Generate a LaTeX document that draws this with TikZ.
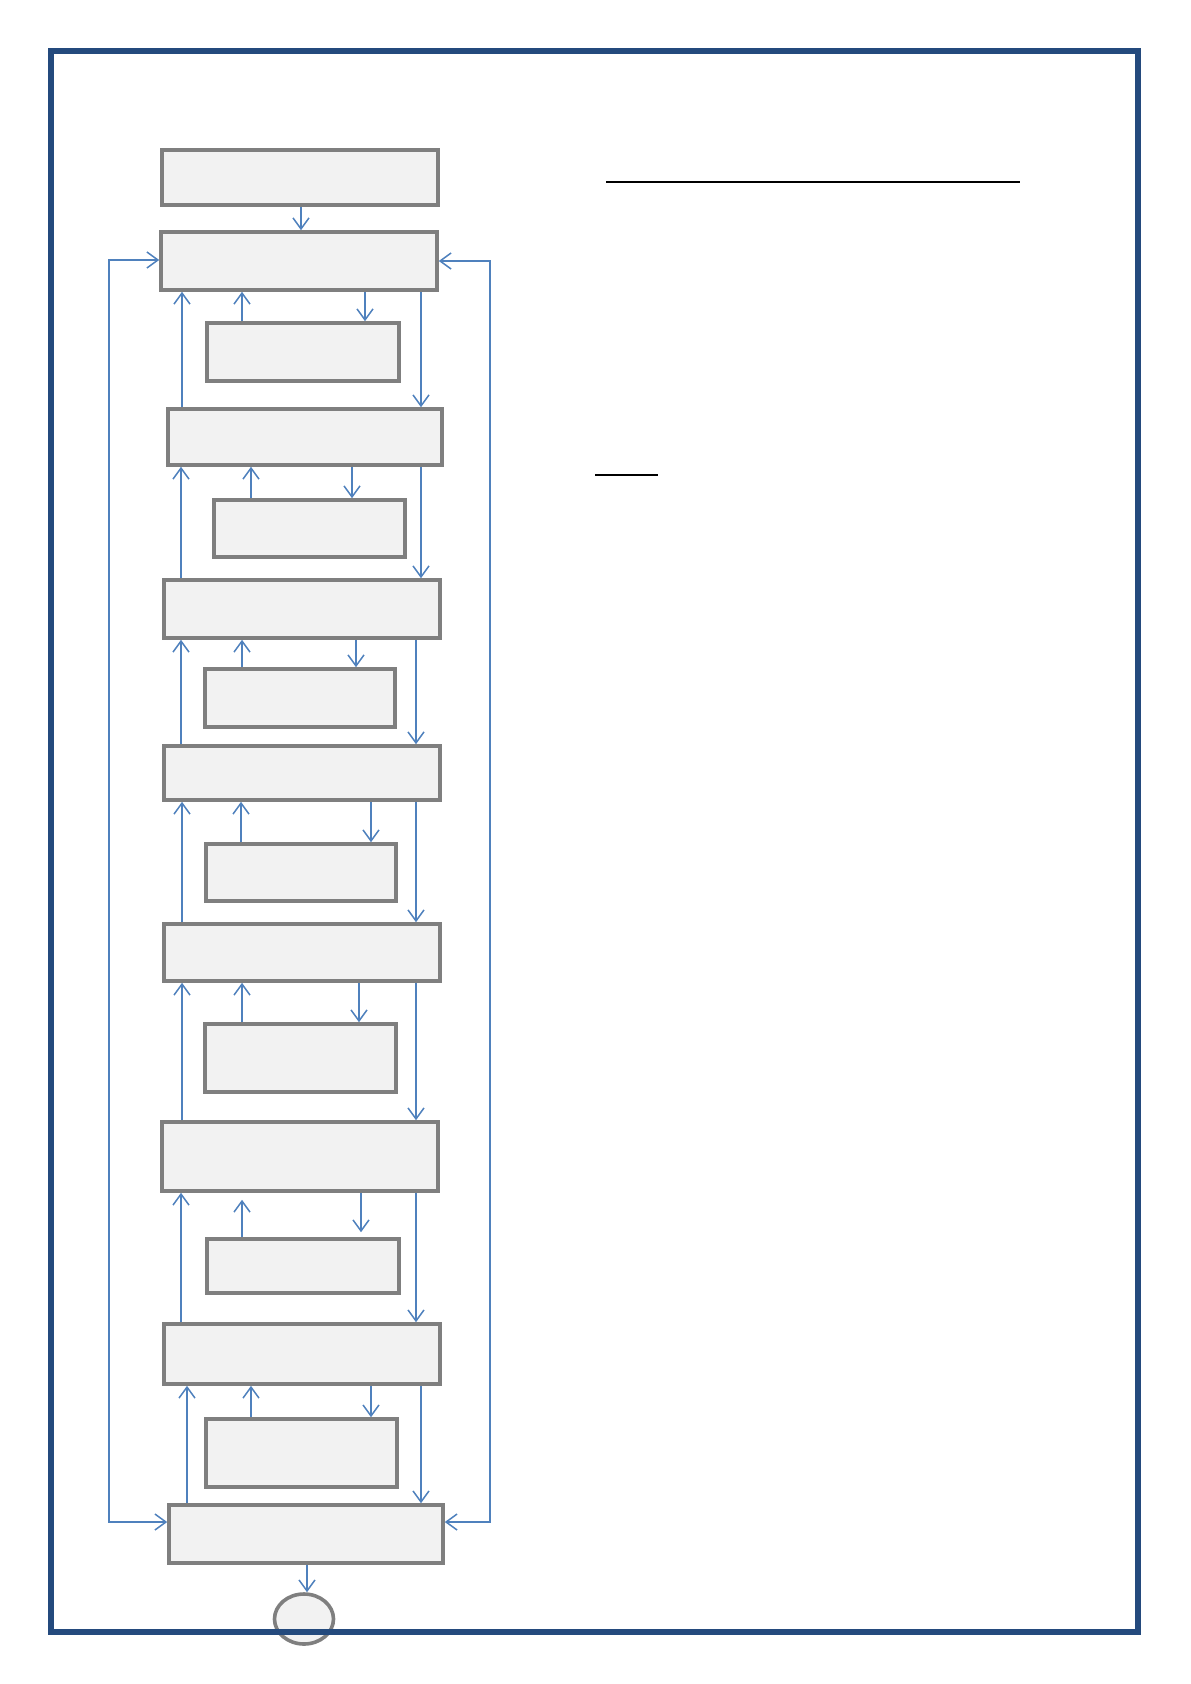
\documentclass[tikz,border=0pt]{standalone}
\usetikzlibrary{arrows.meta,shapes.geometric}
\definecolor{boxgray}{RGB}{127,127,127}
\definecolor{boxfill}{RGB}{242,242,242}
\definecolor{arrblue}{RGB}{79,129,189}
\definecolor{framec}{RGB}{36,74,125}
\begin{document}
\begin{tikzpicture}[x=1pt,y=-1pt,
  box/.style={draw=boxgray, fill=boxfill, line width=3.6pt, rectangle, inner sep=0pt},
  arr/.style={draw=arrblue, line width=1.5pt, -{Straight Barb[length=11pt,width=16pt]}},
  arrtwo/.style={draw=arrblue, line width=1.5pt, {Straight Barb[length=11pt,width=16pt]}-{Straight Barb[length=11pt,width=16pt]}}]
\useasboundingbox (0,0) rectangle (1191,1684);
\fill[white] (0,0) rectangle (1191,1684);

% main boxes
\node[box, minimum width=276pt, minimum height=55pt] (A) at (300,177.5) {};
\node[box, minimum width=276pt, minimum height=58pt] (B) at (299,261) {};
\node[box, minimum width=192pt, minimum height=58pt] (S1) at (303,352) {};
\node[box, minimum width=274pt, minimum height=56pt] (C) at (305,437) {};
\node[box, minimum width=191pt, minimum height=57pt] (S2) at (309.5,528.5) {};
\node[box, minimum width=276pt, minimum height=58pt] (D) at (302,609) {};
\node[box, minimum width=190pt, minimum height=58pt] (S3) at (300,698) {};
\node[box, minimum width=276pt, minimum height=54pt] (E) at (302,773) {};
\node[box, minimum width=190pt, minimum height=57pt] (S4) at (301,872.5) {};
\node[box, minimum width=276pt, minimum height=57pt] (F) at (302,952.5) {};
\node[box, minimum width=191pt, minimum height=68pt] (S5) at (300.5,1058) {};
\node[box, minimum width=276pt, minimum height=69pt] (G) at (300,1156.5) {};
\node[box, minimum width=192pt, minimum height=54pt] (S6) at (303,1266) {};
\node[box, minimum width=276pt, minimum height=60pt] (H) at (302,1354) {};
\node[box, minimum width=191pt, minimum height=68pt] (S7) at (301.5,1453) {};
\node[box, minimum width=274pt, minimum height=58pt] (I) at (306,1534) {};
\node[ellipse, draw=boxgray, fill=boxfill, line width=3.6pt, inner sep=0pt,
      minimum width=59pt, minimum height=50pt] (Z) at (304,1619) {};

% helper x positions
\foreach \xx in {181,182,187,241,242,251,301,307,352,356,359,361,365,371,416,421}
  \coordinate (c\xx) at (\xx,0);
\coordinate (fbL) at (109,0);
\coordinate (fbR) at (490,0);
\coordinate (yTopL) at (0,260);
\coordinate (yTopR) at (0,261);
\coordinate (yBot) at (0,1522);

% A -> B
\draw[arr] (c301 |- A.south) -- (c301 |- B.north);
% B block
\draw[arr] (c242 |- S1.north) -- (c242 |- B.south);
\draw[arr] (c365 |- B.south) -- (c365 |- S1.north);
\draw[arr] (c182 |- C.north) -- (c182 |- B.south);
\draw[arr] (c421 |- B.south) -- (c421 |- C.north);
% C block
\draw[arr] (c251 |- S2.north) -- (c251 |- C.south);
\draw[arr] (c352 |- C.south) -- (c352 |- S2.north);
\draw[arr] (c181 |- D.north) -- (c181 |- C.south);
\draw[arr] (c421 |- C.south) -- (c421 |- D.north);
% D block
\draw[arr] (c242 |- S3.north) -- (c242 |- D.south);
\draw[arr] (c356 |- D.south) -- (c356 |- S3.north);
\draw[arr] (c181 |- E.north) -- (c181 |- D.south);
\draw[arr] (c416 |- D.south) -- (c416 |- E.north);
% E block
\draw[arr] (c241 |- S4.north) -- (c241 |- E.south);
\draw[arr] (c371 |- E.south) -- (c371 |- S4.north);
\draw[arr] (c182 |- F.north) -- (c182 |- E.south);
\draw[arr] (c416 |- E.south) -- (c416 |- F.north);
% F block
\draw[arr] (c242 |- S5.north) -- (c242 |- F.south);
\draw[arr] (c359 |- F.south) -- (c359 |- S5.north);
\draw[arr] (c182 |- G.north) -- (c182 |- F.south);
\draw[arr] (c416 |- F.south) -- (c416 |- G.north);
% G block
\draw[arr, shorten >=7pt] (c242 |- S6.north) -- (c242 |- G.south);
\draw[arr, shorten >=5pt] (c361 |- G.south) -- (c361 |- S6.north);
\draw[arr] (c181 |- H.north) -- (c181 |- G.south);
\draw[arr] (c416 |- G.south) -- (c416 |- H.north);
% H block
\draw[arr] (c251 |- S7.north) -- (c251 |- H.south);
\draw[arr] (c371 |- H.south) -- (c371 |- S7.north);
\draw[arr] (c187 |- I.north) -- (c187 |- H.south);
\draw[arr] (c421 |- H.south) -- (c421 |- I.north);
% I -> end
\draw[arr] (c307 |- I.south) -- (c307 |- Z.north);

% feedback loops
\draw[arrtwo] (yTopL -| B.west) -- (fbL |- yTopL) -- (fbL |- yBot) -- (yBot -| I.west);
\draw[arrtwo] (yTopR -| B.east) -- (fbR |- yTopR) -- (fbR |- yBot) -- (yBot -| I.east);

% underline rules on the right
\draw[black, line width=1.2pt] (606,182) -- (1020,182);
\draw[black, line width=1.5pt] (595,475) -- (658,475);

% page frame
\draw[framec, line width=6pt] (51,51) rectangle (1138,1632);
\end{tikzpicture}
\end{document}
